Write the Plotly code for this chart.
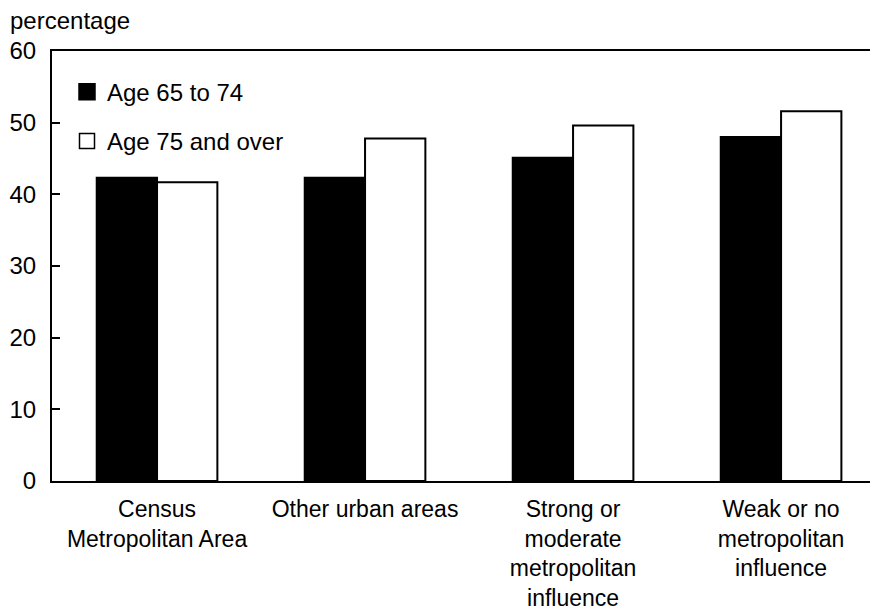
import plotly.graph_objects as go

categories = ["Census Metropolitan Area", "Other urban areas",
              "Strong or moderate metropolitan influence",
              "Weak or no metropolitan influence"]
tick_labels = ["Census<br>Metropolitan Area", "Other urban areas",
               "Strong or<br>moderate<br>metropolitan<br>influence",
               "Weak or no<br>metropolitan<br>influence"]
age_65_74 = [42.3, 42.3, 45.1, 48.0]
age_75_over = [41.7, 47.8, 49.6, 51.6]
series_names = ["Age 65 to 74", "Age 75 and over"]
y_ticks = [0, 10, 20, 30, 40, 50, 60]

FONT = "Arial, Liberation Sans, sans-serif"
FS = 24

fig = go.Figure()
fig.add_trace(go.Bar(x=categories, y=age_65_74, name=series_names[0],
                     marker=dict(color="black", line=dict(color="black", width=2)),
                     showlegend=False))
fig.add_trace(go.Bar(x=categories, y=age_75_over, name=series_names[1],
                     marker=dict(color="white", line=dict(color="black", width=2)),
                     showlegend=False))
# legend entries (larger squares)
fig.add_trace(go.Scatter(x=[None], y=[None], mode="markers", name=series_names[0],
                         legendgroup="a",
                         marker=dict(symbol="square", size=16, color="black",
                                     line=dict(color="black", width=1.5))))
fig.add_trace(go.Scatter(x=[None], y=[None], mode="markers", name=series_names[1],
                         legendgroup="b",
                         marker=dict(symbol="square", size=15, color="white",
                                     line=dict(color="black", width=1.5))))

# page body has an 8px margin: shrink the figure and margins to compensate
fig.update_layout(
    width=870, height=607,
    margin=dict(l=44, r=0, t=43, b=134),
    paper_bgcolor="white", plot_bgcolor="white",
    font=dict(family=FONT, size=FS, color="black"),
    barmode="group", bargap=0.42, bargroupgap=0,
    legend=dict(x=15 / 826, y=0.98 - 10 / 430, xanchor="left", yanchor="top",
                bgcolor="rgba(0,0,0,0)", tracegroupgap=15,
                itemwidth=30, font=dict(size=FS)),
    annotations=[dict(text="percentage", xref="paper", yref="paper",
                      x=-44 / 826, y=1 + (51 - 20) / 430,
                      xanchor="left", yanchor="middle", showarrow=False,
                      font=dict(size=24))],
)
fig.update_xaxes(type="category", range=[-0.505, 3.466],
                 tickvals=categories, ticktext=tick_labels,
                 showline=True, linecolor="black", linewidth=2, mirror=True,
                 ticks="", showgrid=False, zeroline=False, automargin=False,
                 tickfont=dict(size=23), ticklabelstandoff=6)
fig.update_yaxes(range=[0, 60], tickvals=y_ticks,
                 showline=True, linecolor="black", linewidth=2,
                 ticks="inside", ticklen=8, tickwidth=2, tickcolor="black",
                 showgrid=False, zeroline=False, automargin=False,
                 tickfont=dict(size=FS), ticklabelstandoff=9)

fig.write_html("out.html")
